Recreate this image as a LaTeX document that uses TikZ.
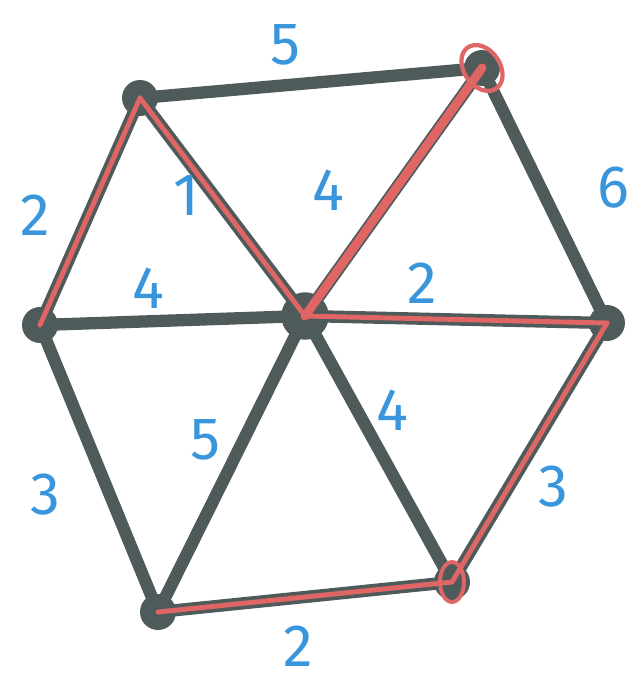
\documentclass[tikz,border=0pt]{standalone}
\usepackage{fontspec}
\setmainfont{Fira Sans}
\definecolor{edgegray}{HTML}{4F5B5A}
\definecolor{pathred}{HTML}{E06666}
\definecolor{wblue}{HTML}{3A96DC}
\begin{document}
\begin{tikzpicture}[
  x=0.02cm, y=-0.02cm,
  vtx/.style={circle, fill=edgegray, minimum size=0.72cm, inner sep=0pt},
  edge/.style={draw=edgegray, line width=7pt, line cap=round},
  picked/.style={draw=pathred, line width=2.8pt, line cap=round},
  wlabel/.style={text=wblue, font=\fontsize{34}{34}\selectfont},
]
\useasboundingbox (0,0) rectangle (641,684);

% --- vertices of the hexagon and the centre ---
\node[vtx] (a)  at (140, 98)  {};
\node[vtx] (b)  at (482, 68)  {};
\node[vtx] (l)  at (40, 325)  {};
\node[vtx, minimum size=0.95cm] (c) at (305, 316) {};
\node[vtx] (r)  at (607, 323) {};
\node[vtx] (bl) at (158, 612) {};
\node[vtx] (br) at (452, 582) {};

% --- all edges in gray ---
\foreach \u/\v in {a/b, b/r, a/l, a/c, b/c, l/c, c/r, l/bl, c/bl, c/br, r/br, bl/br}
  \draw[edge] (\u.center) -- (\v.center);

% --- chosen edges in red ---
\foreach \u/\v in {a/l, a/c, c/r, r/br, bl/br}
  \draw[picked] (\u.center) -- (\v.center);
\draw[picked, line width=5pt] (b.center) -- (c.center);

% circled vertices
\draw[pathred, line width=2.4pt, rotate around={35:(b.center)}] (b.center) ellipse (18 and 25);
\draw[pathred, line width=2.2pt] (br.center) ellipse (12 and 20);

% --- weights ---
\node[wlabel] (w-ab)   at (285, 45)  {5};
\node[wlabel] (w-br)   at (613, 188) {6};
\node[wlabel] (w-al)   at (35, 215)  {2};
\node[wlabel] (w-ac)   at (186, 196) {1};
\node[wlabel] (w-bc)   at (328, 190) {4};
\node[wlabel] (w-lc)   at (148, 288) {4};
\node[wlabel] (w-cr)   at (422, 283) {2};
\node[wlabel] (w-lbl)  at (45, 495)  {3};
\node[wlabel] (w-cbl)  at (205, 440) {5};
\node[wlabel] (w-cbr)  at (392, 410) {4};
\node[wlabel] (w-rbr)  at (553, 487) {3};
\node[wlabel] (w-blbr) at (298, 646) {2};

\end{tikzpicture}
\end{document}
